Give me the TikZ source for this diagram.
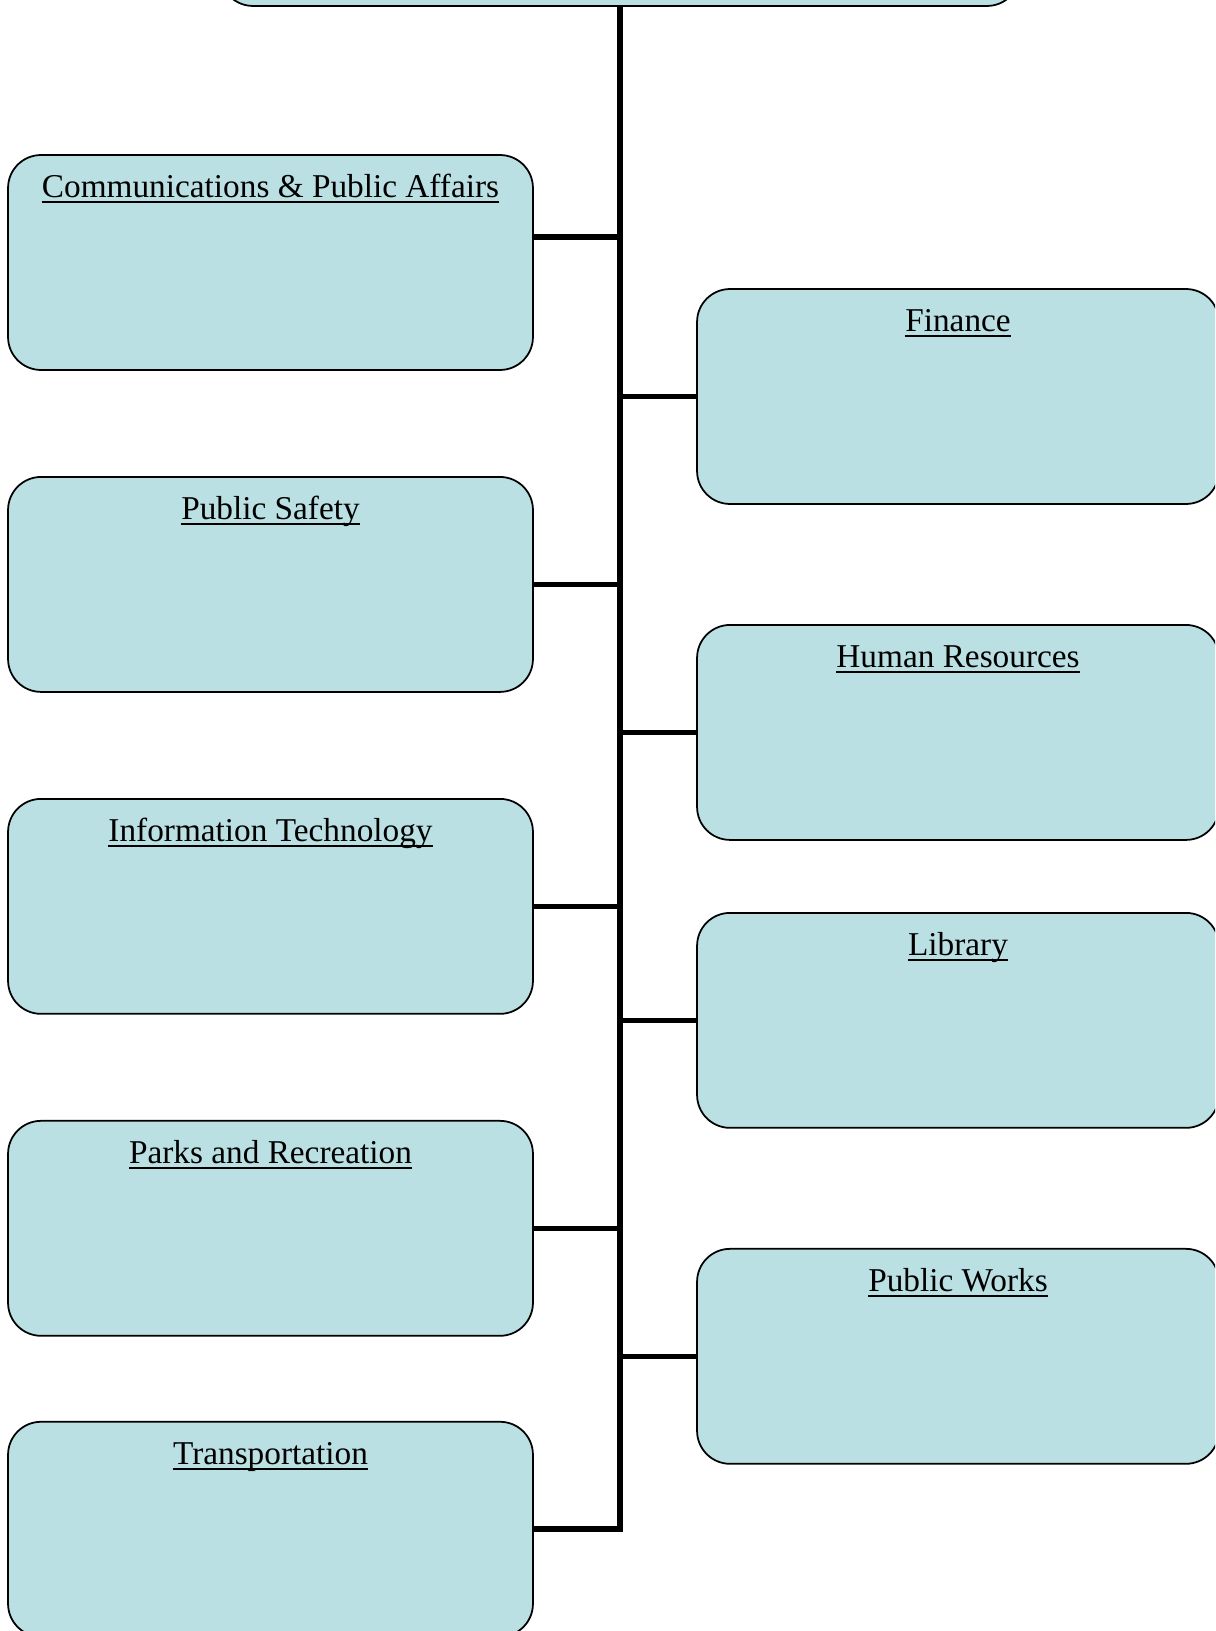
\documentclass[tikz,border=0pt]{standalone}
\usepackage{fontspec}
\setmainfont{Liberation Serif}
\usepackage{tikz}
\usetikzlibrary{positioning}
\definecolor{DeptBlue}{HTML}{BAE0E3}
\newcommand{\deptname}[1]{\setbox0=\hbox{#1}\rlap{\rule[-0.17em]{\wd0}{0.06em}}\box0}

\begin{document}
\begin{tikzpicture}[x=0.02cm,y=-0.02cm,
  deptbox/.style={draw,rounded corners=0.66cm,fill=DeptBlue,line width=1pt,outer sep=0pt,minimum width=10.5cm,minimum height=4.3cm},
  dept/.style={deptbox,label={[anchor=base,yshift=-0.85cm,font=\fontsize{18.95}{22}\selectfont]north:\deptname{#1}}},
  trunk/.style={line width=3.6pt},
  branch/.style={line width=3.2pt}]
  \clip (0,0) rectangle (1215,1631);
  \node[deptbox,minimum width=16cm,minimum height=4.12cm] (mgr) at (620,-97) {};
  % left column
  \node[dept={Communications \& Public Affairs}] (cpa) at (270.5,262.5) {};
  \node[dept=Public Safety,below=2.14cm of cpa] (ps) {};
  \node[dept=Information Technology,below=2.14cm of ps] (it) {};
  \node[dept=Parks and Recreation,below=2.14cm of it] (pr) {};
  \node[dept=Transportation,below=1.72cm of pr] (trn) {};
  % right column
  \node[dept=Finance,minimum width=10.44cm] (fin) at (958,396.5) {};
  \node[dept=Human Resources,minimum width=10.44cm,below=2.42cm of fin] (hr) {};
  \node[dept=Library,minimum width=10.44cm,below=1.46cm of hr] (lib) {};
  \node[dept=Public Works,minimum width=10.44cm,below=2.42cm of lib] (pw) {};
  % connectors
  \draw[trunk] (mgr.south) |- (trn.east);
  \draw[branch] ([yshift=0.51cm]cpa.east) -- ([yshift=0.51cm]cpa.east -| mgr.south);
  \foreach \d in {ps,it,pr}
    \draw[branch] (\d.east) -- (\d.east -| mgr.south);
  \foreach \d in {fin,hr,lib,pw}
    \draw[branch] (\d.west) -- (\d.west -| mgr.south);
\end{tikzpicture}
\end{document}
